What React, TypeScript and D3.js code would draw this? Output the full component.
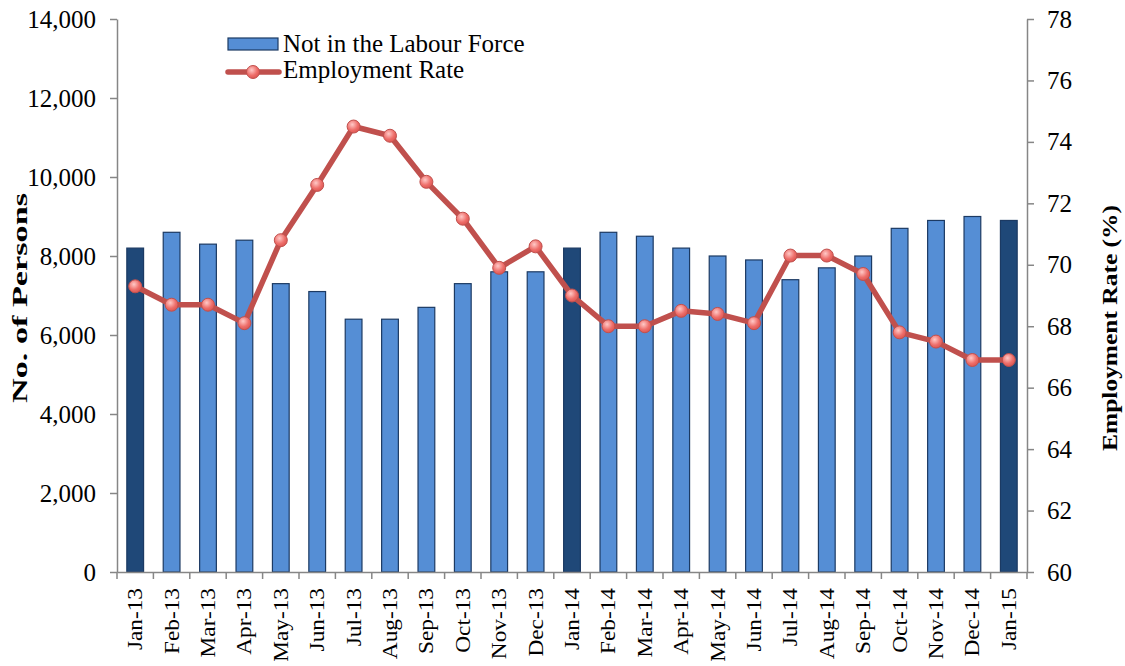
import * as d3 from 'd3'
import { useEffect, useRef } from 'react'

const months = [
    'Jan-13', 'Feb-13', 'Mar-13', 'Apr-13', 'May-13', 'Jun-13', 'Jul-13', 'Aug-13', 'Sep-13',
    'Oct-13', 'Nov-13', 'Dec-13', 'Jan-14', 'Feb-14', 'Mar-14', 'Apr-14', 'May-14', 'Jun-14',
    'Jul-14', 'Aug-14', 'Sep-14', 'Oct-14', 'Nov-14', 'Dec-14', 'Jan-15',
]
const notInLabourForce = [
    8200, 8600, 8300, 8400, 7300, 7100, 6400, 6400, 6700, 7300, 7600, 7600, 8200, 8600, 8500,
    8200, 8000, 7900, 7400, 7700, 8000, 8700, 8900, 9000, 8900,
]
const employmentRate = [
    69.3, 68.7, 68.7, 68.1, 70.8, 72.6, 74.5, 74.2, 72.7, 71.5, 69.9, 70.6, 69.0, 68.0, 68.0,
    68.5, 68.4, 68.1, 70.3, 70.3, 69.7, 67.8, 67.5, 66.9, 66.9,
]
const leftTicks = [0, 2000, 4000, 6000, 8000, 10000, 12000, 14000]
const rightTicks = [60, 62, 64, 66, 68, 70, 72, 74, 76, 78]

const W = 1125
const H = 666
const left = 117
const right = 1027
const top = 19
const bottom = 572
const font = '"Liberation Serif", "Times New Roman", serif'
const axisColor = '#868686'

export default function App() {
    const ref = useRef<SVGSVGElement>(null)

    useEffect(() => {
        const svg = d3.select(ref.current)
        svg.selectAll('*').remove()

        const x = d3.scaleBand().domain(months).range([left, right]).paddingInner(0.54).paddingOuter(0.27)
        const xb = d3.scaleBand().domain(months).range([left, right])
        const y = d3.scaleLinear().domain([0, 14000]).range([bottom, top])
        const yr = d3.scaleLinear().domain([60, 78]).range([bottom, top])

        const defs = svg.append('defs')
        const grad = defs.append('radialGradient').attr('id', 'mk').attr('cx', '40%').attr('cy', '35%').attr('r', '70%')
        grad.append('stop').attr('offset', '0%').attr('stop-color', '#ffc9c7')
        grad.append('stop').attr('offset', '60%').attr('stop-color', '#ee6e6a')
        grad.append('stop').attr('offset', '100%').attr('stop-color', '#d9534f')

        // bars
        svg.append('g')
            .selectAll('rect')
            .data(notInLabourForce)
            .enter()
            .append('rect')
            .attr('x', (d, i) => x(months[i]) as number)
            .attr('width', x.bandwidth())
            .attr('y', (d) => y(d))
            .attr('height', (d) => bottom - y(d))
            .attr('fill', (d, i) => (months[i].startsWith('Jan') ? '#1f4878' : '#558ed5'))
            .attr('stroke', '#1c3a63')
            .attr('stroke-width', 1.2)

        // left axis
        const gl = svg.append('g').attr('transform', `translate(${left},0)`)
            .call(d3.axisLeft(y).tickValues(leftTicks).tickSize(7).tickSizeOuter(0).tickFormat(d3.format(',')))
        gl.select('.domain').attr('stroke', axisColor).attr('stroke-width', 1.5)
        gl.selectAll('.tick line').attr('stroke', axisColor).attr('stroke-width', 1.5)
        gl.selectAll('.tick text').attr('font-family', font).attr('font-size', 25).attr('fill', '#000').attr('x', -21)

        // right axis
        const gr = svg.append('g').attr('transform', `translate(${right},0)`)
            .call(d3.axisRight(yr).tickValues(rightTicks).tickSize(7).tickSizeOuter(0))
        gr.select('.domain').attr('stroke', axisColor).attr('stroke-width', 1.5)
        gr.selectAll('.tick line').attr('stroke', axisColor).attr('stroke-width', 1.5)
        gr.selectAll('.tick text').attr('font-family', font).attr('font-size', 25).attr('fill', '#000').attr('x', 20)

        // bottom axis
        const gb = svg.append('g').attr('transform', `translate(0,${bottom})`)
            .call(d3.axisBottom(xb).tickSize(0).tickSizeOuter(0))
        gb.select('.domain').attr('stroke', axisColor).attr('stroke-width', 1.5)
        gb.selectAll('.tick text')
            .attr('font-family', font)
            .attr('font-size', 21)
            .attr('fill', '#000')
            .attr('transform', 'translate(0,16) rotate(-90) scale(1.11,1)')
            .attr('x', 0)
            .attr('y', 0)
            .attr('dy', '0.33em')
            .attr('text-anchor', 'end')
        gb.append('g')
            .selectAll('line')
            .data(months.concat(['end']))
            .enter()
            .append('line')
            .attr('x1', (d, i) => left + i * xb.step())
            .attr('x2', (d, i) => left + i * xb.step())
            .attr('y1', 0)
            .attr('y2', 7)
            .attr('stroke', axisColor)
            .attr('stroke-width', 1.5)

        // line
        const cx = (i: number) => (xb(months[i]) as number) + xb.bandwidth() / 2
        const line = d3.line<number>().x((d, i) => cx(i)).y((d) => yr(d))
        svg.append('path')
            .datum(employmentRate)
            .attr('d', line)
            .attr('fill', 'none')
            .attr('stroke', '#c0504d')
            .attr('stroke-width', 5.5)
            .attr('stroke-linejoin', 'round')
        svg.append('g')
            .selectAll('circle')
            .data(employmentRate)
            .enter()
            .append('circle')
            .attr('cx', (d, i) => cx(i))
            .attr('cy', (d) => yr(d))
            .attr('r', 6.5)
            .attr('fill', 'url(#mk)')
            .attr('stroke', '#c0504d')
            .attr('stroke-width', 1)

        // axis titles
        svg.append('text')
            .attr('transform', `translate(27,298) rotate(-90)`)
            .attr('text-anchor', 'middle')
            .attr('font-family', font)
            .attr('font-size', 22)
            .attr('font-weight', 'bold')
            .attr('textLength', 210)
            .attr('lengthAdjust', 'spacingAndGlyphs')
            .text('No. of Persons')
        svg.append('text')
            .attr('transform', `translate(1117,328) rotate(-90)`)
            .attr('text-anchor', 'middle')
            .attr('font-family', font)
            .attr('font-size', 22)
            .attr('font-weight', 'bold')
            .attr('textLength', 246)
            .attr('lengthAdjust', 'spacingAndGlyphs')
            .text('Employment Rate (%)')

        // legend
        const lg = svg.append('g')
        lg.append('rect').attr('x', 228).attr('y', 38).attr('width', 50).attr('height', 12)
            .attr('fill', '#558ed5').attr('stroke', '#1c3a63').attr('stroke-width', 1.2)
        lg.append('text').attr('x', 283).attr('y', 52).attr('font-family', font).attr('font-size', 25)
            .text('Not in the Labour Force')
        lg.append('line').attr('x1', 228).attr('x2', 279).attr('y1', 72).attr('y2', 72)
            .attr('stroke', '#c0504d').attr('stroke-width', 5.5).attr('stroke-linecap', 'round')
        lg.append('circle').attr('cx', 253).attr('cy', 72).attr('r', 6.5)
            .attr('fill', 'url(#mk)').attr('stroke', '#c0504d')
        lg.append('text').attr('x', 283).attr('y', 78).attr('font-family', font).attr('font-size', 25)
            .text('Employment Rate')
    }, [])

    return <svg ref={ref} width={W} height={H} style={{ position: 'absolute', left: 0, top: 0, background: '#fff' }} />
}
